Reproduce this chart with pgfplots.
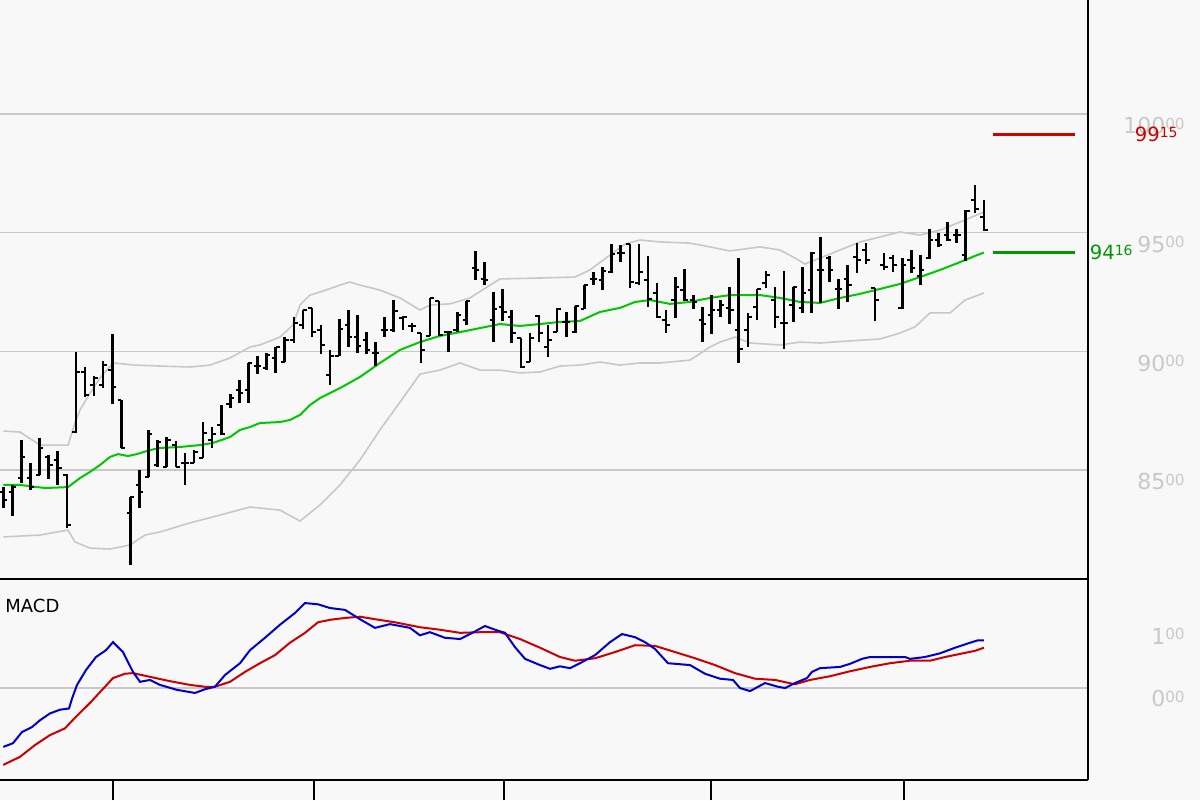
\documentclass[border=0pt]{standalone}
\usepackage{pgfplots}
\usepackage{pgfplotstable}
\usepackage{fontspec}
\setmainfont{DejaVu Sans}
\pgfplotsset{compat=1.18}

\definecolor{bg}{HTML}{F8F8F8}
\definecolor{gridc}{HTML}{C8C8C8}
\definecolor{bandc}{HTML}{C8C8C8}
\definecolor{mac}{HTML}{00C800}
\definecolor{macdb}{HTML}{0000CC}
\definecolor{macdr}{HTML}{CC0000}
\definecolor{lvlred}{HTML}{D00000}
\definecolor{lvlgreen}{HTML}{009900}

% price with small "decimals" raised to the top, as the original prints them
\newcommand\pl[2]{#1\raisebox{2.3pt}{\fontsize{7.6}{8}\selectfont #2}}
\newcommand\plv[2]{#1\raisebox{2.0pt}{\fontsize{7}{8}\selectfont #2}}

% daily bars: index, open, high, low, close
\pgfplotstableread{
i o h l c
0 84.07 84.28 83.40 83.74
1 84.07 84.37 83.06 84.28
2 84.66 86.26 84.45 85.55
3 84.66 85.29 84.16 84.28
4 84.79 86.35 84.79 85.93
5 85.55 85.63 84.62 85.21
6 85.42 85.80 84.37 85.08
7 84.79 84.83 82.56 82.68
8 86.60 89.97 86.56 89.13
9 89.13 89.34 88.08 88.16
10 88.58 88.96 88.12 88.88
11 88.58 89.59 88.45 89.42
12 89.21 90.73 87.78 88.50
13 87.95 87.95 85.93 85.93
14 83.19 83.86 81.00 83.86
15 84.37 85.00 83.40 84.07
16 84.71 86.69 84.71 86.52
17 85.21 86.26 85.13 86.18
18 85.13 86.39 85.13 86.26
19 86.05 86.22 85.13 85.13
20 85.29 85.72 84.37 85.29
21 85.29 85.84 85.29 85.76
22 85.51 87.02 85.51 86.56
23 86.26 86.81 85.93 86.52
24 86.90 87.74 86.47 86.52
25 87.78 88.20 87.61 88.03
26 88.37 88.79 87.82 88.24
27 88.37 89.51 87.82 89.51
28 89.38 89.80 89.05 89.38
29 89.30 89.93 89.21 89.85
30 89.72 90.18 89.09 90.18
31 89.55 90.60 89.55 90.48
32 90.48 91.45 90.35 91.19
33 91.11 91.74 90.94 91.74
34 91.83 91.83 90.60 90.81
35 90.90 91.11 89.89 90.27
36 89.00 90.06 88.58 89.80
37 89.80 91.36 89.80 90.94
38 91.11 91.74 90.18 90.60
39 90.60 91.53 89.93 90.22
40 90.48 90.81 89.89 90.06
41 89.93 90.39 89.38 89.93
42 90.90 91.45 90.60 90.90
43 90.90 92.16 90.81 91.70
44 91.40 91.49 90.90 91.45
45 91.07 91.19 90.81 91.07
46 90.77 90.77 89.51 90.06
47 90.65 92.25 90.65 92.25
48 92.12 92.12 90.65 90.69
49 90.81 90.86 89.97 90.81
50 90.90 91.66 90.81 91.53
51 91.32 92.12 91.11 92.12
52 93.51 94.23 93.01 93.43
53 93.05 93.76 92.79 93.01
54 91.32 92.50 90.39 91.78
55 91.87 92.63 91.28 91.66
56 91.45 91.74 90.35 90.77
57 90.56 90.56 89.30 89.34
58 89.55 90.77 89.55 90.56
59 91.49 91.53 90.39 90.77
60 90.18 91.11 89.76 90.48
61 90.81 91.83 90.81 91.78
62 91.24 91.66 90.60 91.24
63 90.81 91.91 90.77 91.91
64 91.78 92.79 91.78 92.79
65 93.05 93.34 92.79 93.05
66 93.01 93.55 92.58 93.38
67 93.34 94.52 93.30 94.10
68 94.14 94.48 93.76 94.14
69 94.52 94.52 92.67 92.92
70 92.88 94.52 92.79 93.34
71 93.01 94.02 91.87 92.20
72 92.46 92.88 91.40 91.45
73 91.32 91.74 90.77 91.11
74 92.16 93.13 91.40 92.71
75 92.58 93.47 92.12 92.16
76 92.16 92.37 91.78 92.08
77 91.32 91.87 90.39 91.15
78 91.53 92.37 90.73 91.74
79 91.74 92.16 91.45 91.95
80 91.83 92.71 91.15 91.74
81 90.90 93.93 89.51 90.10
82 90.90 91.62 90.18 91.45
83 91.87 92.63 91.32 92.63
84 92.88 93.38 92.67 93.22
85 92.16 92.71 90.98 91.45
86 91.19 93.38 90.10 91.19
87 91.95 92.71 91.24 92.71
88 91.83 93.55 91.62 92.46
89 92.58 94.19 91.62 94.14
90 93.43 94.82 92.04 93.43
91 93.93 94.02 92.92 93.43
92 92.63 93.05 91.78 92.63
93 93.05 93.64 92.08 92.79
94 93.97 94.56 93.30 93.85
95 94.27 94.56 93.68 93.85
96 92.67 92.67 91.28 92.16
97 93.64 94.14 93.43 93.55
98 93.93 94.06 93.34 93.64
99 91.83 93.93 91.78 93.64
100 93.85 94.27 93.30 93.51
101 93.17 94.06 92.79 93.43
102 93.93 95.15 93.89 94.69
103 94.69 94.99 94.40 94.48
104 94.90 95.45 94.65 94.69
105 94.90 95.15 94.56 94.90
106 94.06 95.95 93.81 95.91
107 96.38 97.01 95.83 96.00
108 95.66 96.38 95.07 95.11
}\ohlc

% moving average
\pgfplotstableread{
i p
0 84.37
1.84 84.37
4.59 84.24
7.13 84.28
8.45 84.66
9.55 84.92
10.65 85.21
11.75 85.55
12.63 85.67
13.73 85.59
14.72 85.67
16.16 85.84
17.26 85.93
19.46 85.97
21.66 86.05
23.09 86.14
24.97 86.39
26.07 86.69
27.17 86.81
28.27 86.98
30.47 87.02
31.57 87.11
32.68 87.32
33.78 87.74
34.88 88.03
37.08 88.45
39.28 88.92
41.48 89.51
43.69 90.06
45.89 90.39
48.09 90.65
50.3 90.81
52.5 90.98
54.7 91.15
56.9 91.07
59.11 91.15
61.31 91.24
63.51 91.28
65.72 91.66
67.92 91.83
69.57 92.08
71.22 92.16
73.42 92.00
75.63 92.08
77.83 92.25
80.03 92.37
83.34 92.37
85.54 92.25
87.74 92.08
89.94 92.04
92.15 92.25
94.35 92.42
96.55 92.63
98.75 92.84
100.96 93.13
103.17 93.43
105.37 93.76
107.02 94.02
108 94.16
}\mavg

% upper band
\pgfplotstableread{
i p
0 86.64
1.84 86.60
4.04 86.05
7.13 86.05
7.89 86.98
8.45 87.53
9.55 88.24
10.65 88.88
12.08 89.51
14.5 89.42
17.26 89.38
20.56 89.34
22.76 89.42
24.97 89.72
27.17 90.18
28.27 90.27
30.47 90.60
31.9 91.11
32.68 91.95
33.78 92.37
34.88 92.50
37.08 92.79
38.18 92.92
39.28 92.79
41.48 92.58
43.69 92.25
45.89 91.74
46.99 91.95
49.2 92.00
51.4 92.25
53.6 92.79
54.7 93.05
59.11 93.09
62.96 93.13
64.61 93.43
66.82 94.06
68.47 94.52
70.12 94.69
72.32 94.61
75.63 94.56
77.83 94.40
80.03 94.23
83.34 94.40
85.54 94.27
87.19 93.93
88.29 93.68
89.94 93.93
92.15 94.27
94.35 94.61
96.55 94.82
98.75 95.03
100.96 94.90
103.17 95.11
105.37 95.45
108 95.87
}\upband

% lower band
\pgfplotstableread{
i p
0 82.18
4.04 82.26
7.13 82.47
7.89 81.97
9.55 81.71
11.75 81.67
13.95 81.84
15.61 82.26
17.26 82.39
20.56 82.77
23.86 83.10
27.17 83.44
30.47 83.31
32.68 82.85
34.88 83.53
37.08 84.37
39.28 85.42
41.48 86.69
43.69 87.86
45.89 89.04
48.09 89.21
50.3 89.51
52.5 89.21
54.7 89.21
56.9 89.09
59.11 89.13
61.31 89.38
63.51 89.42
65.72 89.55
67.92 89.42
70.12 89.51
72.32 89.51
75.63 89.63
77.83 90.18
78.93 90.39
80.58 90.60
82.24 90.35
85.54 90.27
87.74 90.39
89.94 90.35
93.25 90.44
96.55 90.52
98.75 90.77
100.41 91.03
102.06 91.62
104.27 91.62
105.92 92.16
108 92.46
}\lowband

% MACD line
\pgfplotstableread{
i m
0 -0.95
1.07 -0.89
2.06 -0.71
3.16 -0.63
4.04 -0.52
5.14 -0.41
6.24 -0.35
7.24 -0.33
7.57 -0.17
8.12 0.05
9.11 0.29
10.21 0.50
11.31 0.61
12.08 0.74
13.18 0.58
14.28 0.26
15.06 0.10
16.16 0.13
17.26 0.05
19.13 -0.03
21.11 -0.08
22.21 -0.02
23.31 0.02
24.42 0.21
26.07 0.40
27.17 0.61
28.82 0.81
30.47 1.02
32.12 1.21
33.23 1.37
34.66 1.35
35.98 1.29
37.63 1.26
39.28 1.11
40.93 0.97
42.59 1.03
43.69 1.00
44.79 0.97
45.89 0.85
46.99 0.90
48.64 0.81
50.3 0.79
51.4 0.87
53.05 1.00
54.15 0.94
55.25 0.89
56.35 0.66
57.46 0.47
59.11 0.37
60.21 0.31
61.31 0.35
62.41 0.32
63.51 0.40
65.17 0.53
66.82 0.74
68.14 0.87
69.57 0.82
70.67 0.74
71.77 0.63
73.2 0.40
75.63 0.37
77.28 0.23
78.93 0.15
80.36 0.13
81.13 0.00
82.24 -0.05
83.89 0.08
85.32 0.02
86.09 0.00
87.19 0.08
88.51 0.16
89.06 0.26
89.94 0.32
92.15 0.34
93.25 0.39
94.57 0.47
95.45 0.50
99.31 0.50
99.86 0.47
101.51 0.50
103.17 0.56
104.82 0.65
106.47 0.73
107.35 0.77
108 0.77
}\macdline

% signal line
\pgfplotstableread{
i m
0 -1.24
1.84 -1.11
3.49 -0.92
5.14 -0.76
6.80 -0.65
7.89 -0.48
9.55 -0.24
11.2 0.02
12.08 0.16
13.4 0.23
14.28 0.24
16.16 0.18
18.36 0.11
20.56 0.05
22.21 0.02
23.31 0.02
24.97 0.10
26.62 0.26
28.27 0.40
29.92 0.53
31.57 0.73
33.23 0.89
34.66 1.06
35.98 1.10
37.63 1.13
39.28 1.15
40.93 1.11
43.14 1.06
45.89 0.98
48.09 0.94
50.3 0.89
52.5 0.90
54.7 0.90
56.9 0.79
59.11 0.65
61.31 0.50
62.96 0.44
65.17 0.48
67.37 0.58
69.57 0.69
71.77 0.68
73.97 0.58
76.18 0.48
78.38 0.37
80.58 0.24
82.79 0.15
84.99 0.13
87.19 0.06
88.84 0.13
91.05 0.19
93.25 0.27
95.45 0.34
97.65 0.40
99.86 0.44
102.06 0.44
103.72 0.50
105.37 0.55
107.02 0.60
108 0.65
}\signalline

\begin{document}
\begin{tikzpicture}
\fill[bg] (0,0) rectangle (600pt,-400pt);

\begin{axis}[
    at={(0pt,0pt)}, anchor=north west,
    scale only axis, width=544pt, height=289.5pt,
    xmin=-0.363, xmax=119.46, ymin=80.407, ymax=104.803,
    axis x line*=bottom, axis y line*=right,
    axis line style={line width=1.4pt, black},
    xtick=\empty,
    ytick={85,90,95,100},
    yticklabels={\pl{85}{00},\pl{90}{00},\pl{95}{00},\pl{100}{00}},
    ytick style={draw=none},
    ymajorgrids, grid style={gridc, line width=0.6pt},
    yticklabel style={anchor=north east, inner sep=0pt, xshift=48.5pt, yshift=-1.5pt,
        text=gridc, font=\fontsize{11}{11}\selectfont},
    clip=false]
    \addplot[bandc, line width=0.8pt] table[x=i, y=p] {\upband};
    \addplot[bandc, line width=0.8pt] table[x=i, y=p] {\lowband};
    \addplot[mac, line width=1pt] table[x=i, y=p] {\mavg};
    % high-low range
    \addplot[black, line width=1.3pt, quiver={u=0, v=\thisrow{l}-\thisrow{h}}] table[x=i, y=h] {\ohlc};
    % open tick (left) and close tick (right)
    \addplot[black, line width=1.1pt, quiver={u=0.42, v=0}] table[x expr=\thisrow{i}-0.42, y=o] {\ohlc};
    \addplot[black, line width=1.1pt, quiver={u=0.42, v=0}] table[x=i, y=c] {\ohlc};
    % last levels
    \addplot[lvlred, line width=1.5pt] coordinates {(109,99.15) (118,99.15)};
    \addplot[lvlgreen, line width=1.6pt] coordinates {(109,94.16) (118,94.16)};
    \node[anchor=east, inner sep=0pt, text=lvlred, font=\fontsize{9.8}{10}\selectfont] at (axis cs:129.37,99.15) {\plv{99}{15}};
    \node[anchor=east, inner sep=0pt, text=lvlgreen, font=\fontsize{9.8}{10}\selectfont] at (axis cs:124.42,94.16) {\plv{94}{16}};
\end{axis}

\begin{axis}[
    at={(0pt,-289.5pt)}, anchor=north west,
    scale only axis, width=544pt, height=100.5pt,
    xmin=-0.363, xmax=119.46, ymin=-1.484, ymax=1.758,
    axis x line*=box, axis y line*=right,
    axis line style={line width=1.4pt, black},
    xtick={12.08,34.22,55.14,77.94,99.2}, xticklabels={},
    xtick pos=left, tick align=outside, major tick length=10pt,
    xtick style={line width=1pt, black},
    ytick={0}, yticklabels={\pl{0}{00}},
    extra y ticks={1}, extra y tick labels={\pl{1}{00}},
    extra y tick style={grid=none},
    ytick style={draw=none},
    ymajorgrids, grid style={gridc, line width=0.6pt},
    yticklabel style={anchor=north east, inner sep=0pt, xshift=38.5pt, yshift=-1pt,
        text=gridc, font=\fontsize{11}{11}\selectfont},
    clip=false]
    \addplot[macdr, line width=1pt] table[x=i, y=m] {\signalline};
    \addplot[macdb, line width=1pt] table[x=i, y=m] {\macdline};
    \node[anchor=north west, inner sep=0pt, xshift=2.5pt, yshift=-10pt, font=\fontsize{9}{9}\selectfont] at (rel axis cs:0,1) {MACD};
\end{axis}

\pgfresetboundingbox
\path[use as bounding box] (0,0) rectangle (600pt,-400pt);
\end{tikzpicture}
\end{document}
